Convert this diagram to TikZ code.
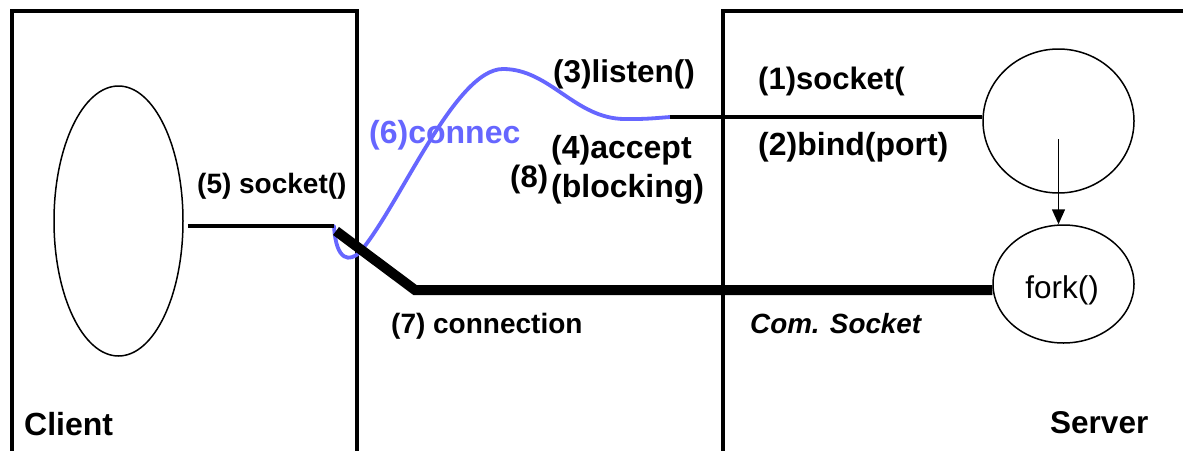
\documentclass[tikz,border=0pt]{standalone}
\usepackage{fontspec}
\setmainfont{Liberation Sans}
\usetikzlibrary{shapes.geometric,arrows.meta}
\definecolor{connblue}{RGB}{102,102,255}
\begin{document}
\begin{tikzpicture}[x=1pt,y=-1pt,
  box/.style={line width=4pt,line join=miter},
  oval/.style={draw,ellipse,inner sep=0pt,line width=1.5pt},
  lbl/.style={anchor=base west,inner sep=0pt,font=\bfseries\fontsize{#1}{#1}\selectfont},
  lbl/.default=32,
  thinconn/.style={line width=4pt},
  thickconn/.style={line width=10pt,line join=miter},
  blueconn/.style={line width=3.8pt,connblue,line cap=round},
  flow/.style={line width=1.5pt,-{Triangle[length=15pt,width=13pt]}}
]
\useasboundingbox (0,0) rectangle (1183,450);
\clip (0,0) rectangle (1183,450);
\fill[white] (0,0) rectangle (1183,450);

% boxes
\draw[box] (12,470) -- (12,11) -- (357,11) -- (357,470);
\draw[box] (723,470) -- (723,11) -- (1200,11);

% ovals
\node[oval,minimum width=129pt,minimum height=270pt] (ce) at (118.5,221) {};
\node[oval,minimum width=151pt,minimum height=144pt] (srv) at (1058.5,121) {};
\node[oval,minimum width=141pt,minimum height=118pt] (fork) at (1063.5,284) {};
\node[anchor=base,inner sep=0pt,font=\fontsize{31.5}{31.5}\selectfont] (forklbl) at (1062,298) {fork()};

% coordinates
\coordinate (cs) at (334,226);
\coordinate (tstart) at (336,231);
\coordinate (bend) at (415,290);
\coordinate (le) at (670,117);

% blue connect curve
\draw[blueconn] (cs) .. controls (336,262) and (350,262) .. (360,252)
  .. controls (400,205) and (455,69) .. (503,69)
  .. controls (550,69) and (575,119) .. (625,119)
  .. controls (645,119) .. (le);

% black lines
\draw[thinconn] ([xshift=4pt,yshift=-5pt]ce.east) -- (cs);
\draw[thinconn] (le) -- (le -| srv.west);
\draw[thickconn] (tstart) -- (bend) -- (bend -| fork.west);
\draw[flow] ([yshift=-18pt]srv.center) -- (srv.center |- fork.north);

% labels
\node[lbl=31] (l1) at (758,89) {(1)socket(};
\node[lbl=32] (l2) at (758,155) {(2)bind(port)};
\node[lbl=31.5] (l3) at (553,82) {(3)listen()};
\node[lbl=32] (l4) at (551,158) {(4)accept};
\node[lbl=32] (l4b) at (551,197) {(blocking)};
\node[lbl=31] (l8) at (510,187) {(8)};
\node[lbl=28] (l5) at (197,193) {(5) socket()};
\node[lbl=32,text=connblue] (l6) at (369,143) {(6)connec};
\node[lbl=28] (l7) at (391,333) {(7) connection};
\node[lbl=28,font=\bfseries\itshape\fontsize{27.8}{27.8}\selectfont] (lcs) at (750,333) {Com. Socket};
\node[lbl=32] (lc) at (24,435) {Client};
\node[lbl=31.5] (lsv) at (1050,433) {Server};
\end{tikzpicture}
\end{document}
